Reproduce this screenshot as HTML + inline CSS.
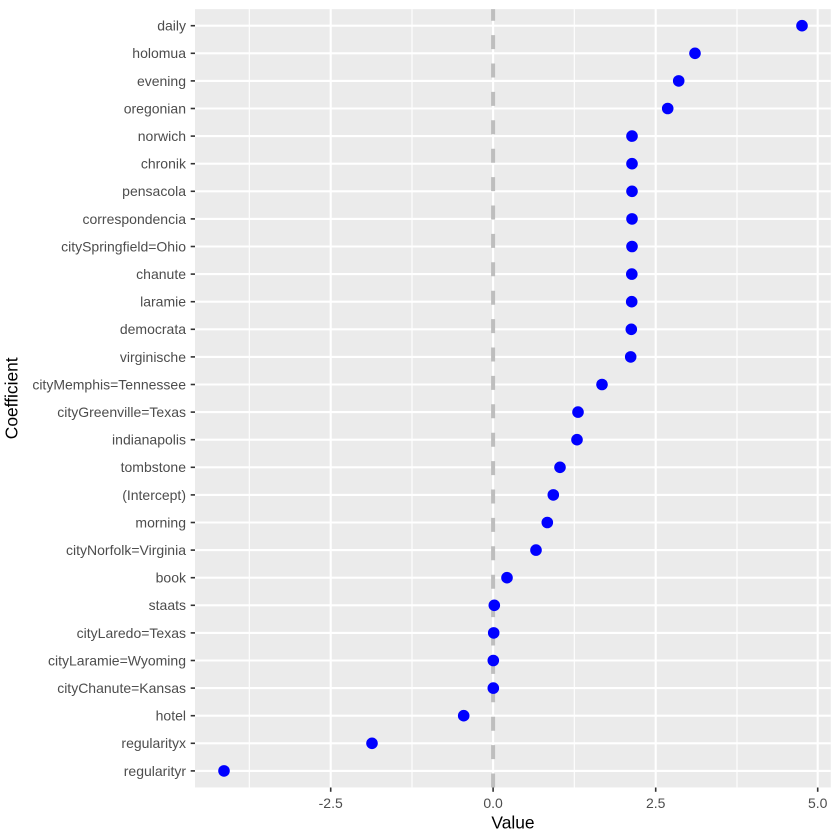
<!DOCTYPE html>
<html><head><meta charset="utf-8"><style>
html,body{margin:0;padding:0;background:#fff;}
svg{display:block;}
text{font-family:"Liberation Sans",Arial,sans-serif;}
</style></head><body>
<svg width="840" height="840" viewBox="0 0 840 840" xmlns="http://www.w3.org/2000/svg">
<rect x="0" y="0" width="840" height="840" fill="#ffffff"/>
<rect x="195" y="9.17" width="635.8" height="778.3" fill="#EBEBEB"/>
<g stroke="#ffffff" stroke-width="1.07">
<line x1="249.3" y1="9.17" x2="249.3" y2="787.5"/>
<line x1="412" y1="9.17" x2="412" y2="787.5"/>
<line x1="574.3" y1="9.17" x2="574.3" y2="787.5"/>
<line x1="737" y1="9.17" x2="737" y2="787.5"/>
</g>
<g stroke="#ffffff" stroke-width="2.1">
<line x1="330.7" y1="9.17" x2="330.7" y2="787.5"/>
<line x1="493.1" y1="9.17" x2="493.1" y2="787.5"/>
<line x1="655.7" y1="9.17" x2="655.7" y2="787.5"/>
<line x1="817.7" y1="9.17" x2="817.7" y2="787.5"/>
<line x1="195" y1="25.7" x2="830.8" y2="25.7"/>
<line x1="195" y1="53.3" x2="830.8" y2="53.3"/>
<line x1="195" y1="80.9" x2="830.8" y2="80.9"/>
<line x1="195" y1="108.5" x2="830.8" y2="108.5"/>
<line x1="195" y1="136.1" x2="830.8" y2="136.1"/>
<line x1="195" y1="163.7" x2="830.8" y2="163.7"/>
<line x1="195" y1="191.3" x2="830.8" y2="191.3"/>
<line x1="195" y1="218.9" x2="830.8" y2="218.9"/>
<line x1="195" y1="246.5" x2="830.8" y2="246.5"/>
<line x1="195" y1="274.1" x2="830.8" y2="274.1"/>
<line x1="195" y1="301.7" x2="830.8" y2="301.7"/>
<line x1="195" y1="329.3" x2="830.8" y2="329.3"/>
<line x1="195" y1="356.9" x2="830.8" y2="356.9"/>
<line x1="195" y1="384.5" x2="830.8" y2="384.5"/>
<line x1="195" y1="412.1" x2="830.8" y2="412.1"/>
<line x1="195" y1="439.7" x2="830.8" y2="439.7"/>
<line x1="195" y1="467.3" x2="830.8" y2="467.3"/>
<line x1="195" y1="494.9" x2="830.8" y2="494.9"/>
<line x1="195" y1="522.5" x2="830.8" y2="522.5"/>
<line x1="195" y1="550.1" x2="830.8" y2="550.1"/>
<line x1="195" y1="577.7" x2="830.8" y2="577.7"/>
<line x1="195" y1="605.3" x2="830.8" y2="605.3"/>
<line x1="195" y1="632.9" x2="830.8" y2="632.9"/>
<line x1="195" y1="660.5" x2="830.8" y2="660.5"/>
<line x1="195" y1="688.1" x2="830.8" y2="688.1"/>
<line x1="195" y1="715.7" x2="830.8" y2="715.7"/>
<line x1="195" y1="743.3" x2="830.8" y2="743.3"/>
<line x1="195" y1="770.9" x2="830.8" y2="770.9"/>
</g>
<line x1="493.1" y1="787.5" x2="493.1" y2="9.17" stroke="#BEBEBE" stroke-width="4" stroke-dasharray="14 14.4"/>
<g fill="#0000FF">
<circle cx="802" cy="25.7" r="5.8"/>
<circle cx="695" cy="53.3" r="5.8"/>
<circle cx="678.7" cy="80.9" r="5.8"/>
<circle cx="667.7" cy="108.5" r="5.8"/>
<circle cx="632" cy="136.1" r="5.8"/>
<circle cx="632" cy="163.7" r="5.8"/>
<circle cx="632" cy="191.3" r="5.8"/>
<circle cx="632" cy="218.9" r="5.8"/>
<circle cx="632" cy="246.5" r="5.8"/>
<circle cx="631.8" cy="274.1" r="5.8"/>
<circle cx="631.7" cy="301.7" r="5.8"/>
<circle cx="631.3" cy="329.3" r="5.8"/>
<circle cx="630.7" cy="356.9" r="5.8"/>
<circle cx="602" cy="384.5" r="5.8"/>
<circle cx="578" cy="412.1" r="5.8"/>
<circle cx="577" cy="439.7" r="5.8"/>
<circle cx="560" cy="467.3" r="5.8"/>
<circle cx="553.3" cy="494.9" r="5.8"/>
<circle cx="547.3" cy="522.5" r="5.8"/>
<circle cx="536" cy="550.1" r="5.8"/>
<circle cx="507" cy="577.7" r="5.8"/>
<circle cx="494.3" cy="605.3" r="5.8"/>
<circle cx="493.7" cy="632.9" r="5.8"/>
<circle cx="493.3" cy="660.5" r="5.8"/>
<circle cx="493.3" cy="688.1" r="5.8"/>
<circle cx="463.7" cy="715.7" r="5.8"/>
<circle cx="372" cy="743.3" r="5.8"/>
<circle cx="224" cy="770.9" r="5.8"/>
</g>
<g stroke="#333333" stroke-width="1.6">
<line x1="190.7" y1="25.7" x2="195" y2="25.7"/>
<line x1="190.7" y1="53.3" x2="195" y2="53.3"/>
<line x1="190.7" y1="80.9" x2="195" y2="80.9"/>
<line x1="190.7" y1="108.5" x2="195" y2="108.5"/>
<line x1="190.7" y1="136.1" x2="195" y2="136.1"/>
<line x1="190.7" y1="163.7" x2="195" y2="163.7"/>
<line x1="190.7" y1="191.3" x2="195" y2="191.3"/>
<line x1="190.7" y1="218.9" x2="195" y2="218.9"/>
<line x1="190.7" y1="246.5" x2="195" y2="246.5"/>
<line x1="190.7" y1="274.1" x2="195" y2="274.1"/>
<line x1="190.7" y1="301.7" x2="195" y2="301.7"/>
<line x1="190.7" y1="329.3" x2="195" y2="329.3"/>
<line x1="190.7" y1="356.9" x2="195" y2="356.9"/>
<line x1="190.7" y1="384.5" x2="195" y2="384.5"/>
<line x1="190.7" y1="412.1" x2="195" y2="412.1"/>
<line x1="190.7" y1="439.7" x2="195" y2="439.7"/>
<line x1="190.7" y1="467.3" x2="195" y2="467.3"/>
<line x1="190.7" y1="494.9" x2="195" y2="494.9"/>
<line x1="190.7" y1="522.5" x2="195" y2="522.5"/>
<line x1="190.7" y1="550.1" x2="195" y2="550.1"/>
<line x1="190.7" y1="577.7" x2="195" y2="577.7"/>
<line x1="190.7" y1="605.3" x2="195" y2="605.3"/>
<line x1="190.7" y1="632.9" x2="195" y2="632.9"/>
<line x1="190.7" y1="660.5" x2="195" y2="660.5"/>
<line x1="190.7" y1="688.1" x2="195" y2="688.1"/>
<line x1="190.7" y1="715.7" x2="195" y2="715.7"/>
<line x1="190.7" y1="743.3" x2="195" y2="743.3"/>
<line x1="190.7" y1="770.9" x2="195" y2="770.9"/>
<line x1="330.7" y1="787.5" x2="330.7" y2="791.8"/>
<line x1="493.1" y1="787.5" x2="493.1" y2="791.8"/>
<line x1="655.7" y1="787.5" x2="655.7" y2="791.8"/>
<line x1="817.7" y1="787.5" x2="817.7" y2="791.8"/>
</g>
<g fill="#4D4D4D" font-size="14" text-anchor="end">
<text x="186" y="30.6">daily</text>
<text x="186" y="58.2">holomua</text>
<text x="186" y="85.8">evening</text>
<text x="186" y="113.4">oregonian</text>
<text x="186" y="141">norwich</text>
<text x="186" y="168.6">chronik</text>
<text x="186" y="196.2">pensacola</text>
<text x="186" y="223.8">correspondencia</text>
<text x="186" y="251.4">citySpringfield=Ohio</text>
<text x="186" y="279">chanute</text>
<text x="186" y="306.6">laramie</text>
<text x="186" y="334.2">democrata</text>
<text x="186" y="361.8">virginische</text>
<text x="186" y="389.4">cityMemphis=Tennessee</text>
<text x="186" y="417">cityGreenville=Texas</text>
<text x="186" y="444.6">indianapolis</text>
<text x="186" y="472.2">tombstone</text>
<text x="186" y="499.8">(Intercept)</text>
<text x="186" y="527.4">morning</text>
<text x="186" y="555">cityNorfolk=Virginia</text>
<text x="186" y="582.6">book</text>
<text x="186" y="610.2">staats</text>
<text x="186" y="637.8">cityLaredo=Texas</text>
<text x="186" y="665.4">cityLaramie=Wyoming</text>
<text x="186" y="693">cityChanute=Kansas</text>
<text x="186" y="720.6">hotel</text>
<text x="186" y="748.2">regularityx</text>
<text x="186" y="775.8">regularityr</text>
</g>
<g fill="#4D4D4D" font-size="14" text-anchor="middle">
<text x="330.7" y="807.8">-2.5</text>
<text x="493.1" y="807.8">0.0</text>
<text x="655.7" y="807.8">2.5</text>
<text x="817.7" y="807.8">5.0</text>
</g>
<text x="513" y="828.5" font-size="17.4" text-anchor="middle" fill="#000000">Value</text>
<text x="0" y="0" font-size="17.4" text-anchor="middle" fill="#000000" transform="translate(17.5,398.3) rotate(-90)">Coefficient</text>
</svg>
</body></html>
